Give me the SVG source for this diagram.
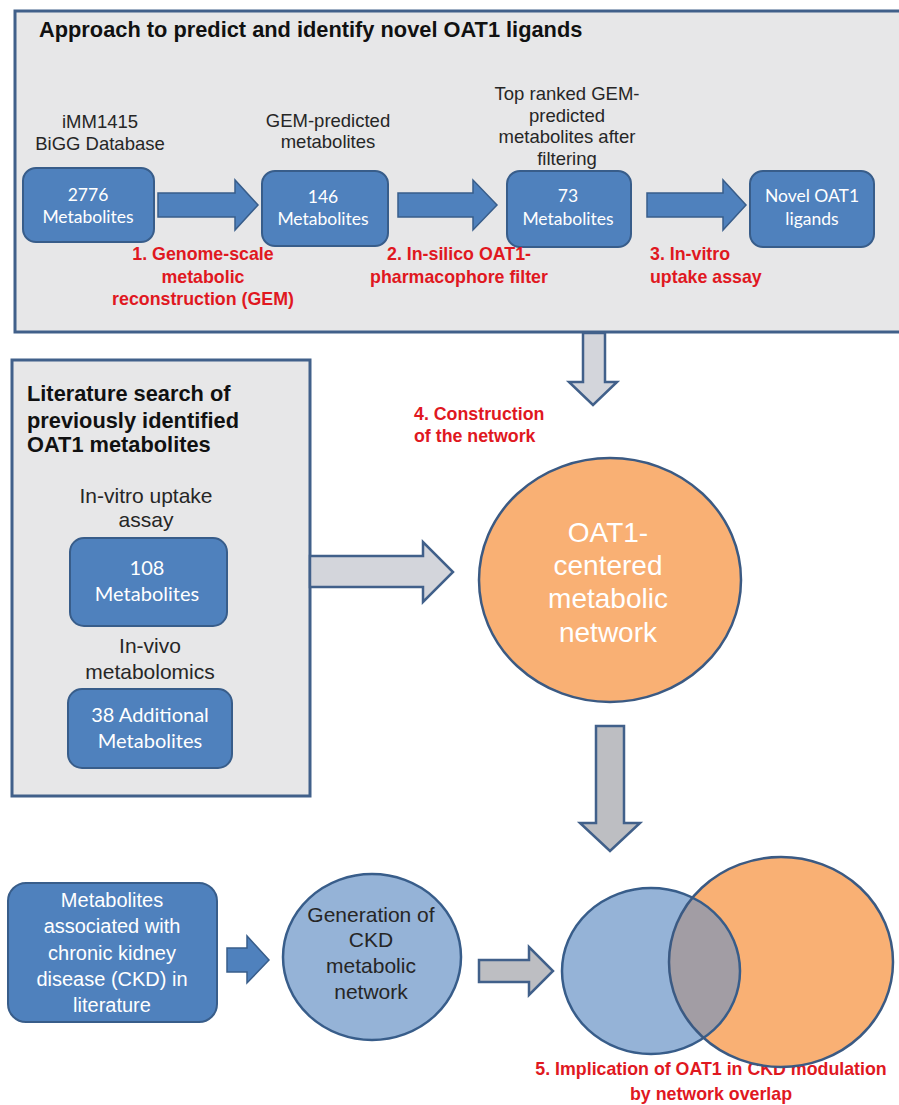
<svg xmlns="http://www.w3.org/2000/svg" width="899" height="1105" viewBox="0 0 899 1105">
  <style>
    .panel { fill: #E7E7E8; stroke: #41608A; stroke-width: 3; }
    .node { fill: #4F81BD; stroke: #385D8A; stroke-width: 2; }
    .blue-arrow { fill: #4F81BD; stroke: #385D8A; stroke-width: 1.5; }
    .gray-arrow { fill: #D3D5DB; stroke: #41608A; stroke-width: 2.5; }
    .gray-arrow-dark { fill: #BDBEC2; stroke: #41608A; stroke-width: 2.5; }
    .ntext { font-family: Lato, "Open Sans", sans-serif; fill: #FFFFFF; text-anchor: middle; }
    .label { font-family: "Liberation Sans", Arial, sans-serif; fill: #262626; text-anchor: middle; }
    .head { font-family: "Liberation Sans", Arial, sans-serif; font-weight: bold; fill: #111111; }
    .step { font-family: "Liberation Sans", Arial, sans-serif; font-weight: bold; fill: #E0181F; font-size: 17.8px; }
    .wtext { font-family: "Liberation Sans", Arial, sans-serif; fill: #FFFFFF; text-anchor: middle; }
  </style>
  <defs>
    <clipPath id="clip-ckd">
      <ellipse cx="651" cy="971" rx="89" ry="83"/>
    </clipPath>
  </defs>

  <rect width="899" height="1105" fill="#FFFFFF"/>

  <!-- Panel: prediction pipeline -->
  <g id="panel-approach">
    <rect class="panel" x="15" y="11" width="895" height="321"/>
    <text class="head" x="39" y="37" font-size="21.8">Approach to predict and identify novel OAT1 ligands</text>
  </g>

  <!-- Panel: literature search -->
  <g id="panel-literature">
    <rect class="panel" x="12" y="360" width="298" height="436"/>
    <text class="head" font-size="21.8">
      <tspan x="27" y="401">Literature search of</tspan>
      <tspan x="27" y="428">previously identified</tspan>
      <tspan x="27" y="452">OAT1 metabolites</tspan>
    </text>
  </g>

  <!-- Connectors -->
  <g id="connectors">
    <polygon class="blue-arrow" points="158,193 235,193 235,180 258,205 235,230 235,217 158,217"/>
    <polygon class="blue-arrow" points="398,193 473,193 473,180 497,205 473,230 473,217 398,217"/>
    <polygon class="blue-arrow" points="647,193 723,193 723,180 746,205 723,230 723,217 647,217"/>
    <polygon class="gray-arrow" points="583,333 605,333 605,382 617,382 593,405 569,382 583,382"/>
    <polygon class="gray-arrow" points="310,556 423,556 423,542 453,572 423,602 423,587 310,587"/>
    <polygon class="gray-arrow-dark" points="596,726 624,726 624,823 640,823 610,851 580,823 596,823"/>
    <polygon class="blue-arrow" points="227,948 247,948 247,936 269,960 247,983 247,972 227,972"/>
    <polygon class="gray-arrow-dark" points="479,960 529,960 529,947 553,971 529,995 529,982 479,982"/>
  </g>

  <!-- Pipeline nodes -->
  <g id="node-bigg">
    <text class="label" font-size="18.5"><tspan x="100" y="128">iMM1415</tspan><tspan x="100" y="150">BiGG Database</tspan></text>
    <rect class="node" x="23" y="168" width="131" height="74" rx="13"/>
    <text class="ntext" font-size="17.5"><tspan x="88" y="201">2776</tspan><tspan x="88" y="223">Metabolites</tspan></text>
  </g>
  <g id="node-gem">
    <text class="label" font-size="18.5"><tspan x="328" y="127">GEM-predicted</tspan><tspan x="328" y="148">metabolites</tspan></text>
    <rect class="node" x="262" y="171" width="126" height="75" rx="13"/>
    <text class="ntext" font-size="17.5"><tspan x="323" y="203">146</tspan><tspan x="323" y="225">Metabolites</tspan></text>
  </g>
  <g id="node-filtered">
    <text class="label" font-size="18.5"><tspan x="567" y="100">Top ranked GEM-</tspan><tspan x="567" y="122">predicted</tspan><tspan x="567" y="143">metabolites after</tspan><tspan x="567" y="165">filtering</tspan></text>
    <rect class="node" x="507" y="171" width="124" height="76" rx="13"/>
    <text class="ntext" font-size="17.5"><tspan x="568" y="202">73</tspan><tspan x="568" y="225">Metabolites</tspan></text>
  </g>
  <g id="node-novel">
    <rect class="node" x="750" y="171" width="124" height="76" rx="13"/>
    <text class="ntext" font-size="17.5"><tspan x="812" y="202">Novel OAT1</tspan><tspan x="812" y="225">ligands</tspan></text>
  </g>

  <!-- Step labels -->
  <g id="step-labels">
    <text class="step" text-anchor="middle"><tspan x="203" y="260">1. Genome-scale</tspan><tspan x="203" y="283">metabolic</tspan><tspan x="203" y="305">reconstruction (GEM)</tspan></text>
    <text class="step" text-anchor="middle"><tspan x="459" y="260">2. In-silico  OAT1-</tspan><tspan x="459" y="283">pharmacophore filter</tspan></text>
    <text class="step"><tspan x="650" y="260">3. In-vitro</tspan><tspan x="650" y="283">uptake assay</tspan></text>
    <text class="step"><tspan x="414" y="420">4. Construction</tspan><tspan x="414" y="442">of the network</tspan></text>
    <text class="step" text-anchor="middle"><tspan x="711" y="1075">5. Implication  of OAT1 in CKD modulation</tspan><tspan x="711" y="1100">by network overlap</tspan></text>
  </g>

  <!-- Literature nodes -->
  <g id="node-invitro">
    <text class="label" font-size="21"><tspan x="146" y="503">In-vitro uptake</tspan><tspan x="146" y="527">assay</tspan></text>
    <rect class="node" x="70" y="538" width="157" height="88" rx="14"/>
    <text class="ntext" font-size="20"><tspan x="147" y="575">108</tspan><tspan x="147" y="601">Metabolites</tspan></text>
  </g>
  <g id="node-invivo">
    <text class="label" font-size="21"><tspan x="150" y="653">In-vivo</tspan><tspan x="150" y="679">metabolomics</tspan></text>
    <rect class="node" x="68" y="689" width="164" height="79" rx="14"/>
    <text class="ntext" font-size="20"><tspan x="150" y="722">38 Additional</tspan><tspan x="150" y="748">Metabolites</tspan></text>
  </g>

  <!-- OAT1 network -->
  <g id="node-oat1-network">
    <ellipse cx="610" cy="580" rx="131" ry="122" fill="#F9B074" stroke="#3B5A83" stroke-width="2.5"/>
    <text class="wtext" font-size="28" fill="#FBF3EA"><tspan x="608" y="542">OAT1-</tspan><tspan x="608" y="575">centered</tspan><tspan x="608" y="608">metabolic</tspan><tspan x="608" y="642">network</tspan></text>
  </g>

  <!-- CKD branch -->
  <g id="node-ckd-literature">
    <rect class="node" x="8" y="883" width="209" height="139" rx="18"/>
    <text class="wtext" font-size="20"><tspan x="112" y="907">Metabolites</tspan><tspan x="112" y="933">associated with</tspan><tspan x="112" y="960">chronic kidney</tspan><tspan x="112" y="986">disease (CKD) in</tspan><tspan x="112" y="1012">literature</tspan></text>
  </g>
  <g id="node-ckd-network">
    <ellipse cx="372" cy="957" rx="89" ry="83" fill="#95B3D7" stroke="#385D8A" stroke-width="2.5"/>
    <text class="label" font-size="21" fill="#111111"><tspan x="371" y="922">Generation of</tspan><tspan x="371" y="947">CKD</tspan><tspan x="371" y="973">metabolic</tspan><tspan x="371" y="999">network</tspan></text>
  </g>

  <!-- Network overlap -->
  <g id="node-overlap">
    <ellipse cx="651" cy="971" rx="89" ry="83" fill="#95B3D7"/>
    <ellipse cx="781" cy="962" rx="112" ry="105" fill="#F9B074"/>
    <ellipse cx="781" cy="962" rx="112" ry="105" fill="#A29DA4" clip-path="url(#clip-ckd)"/>
    <ellipse cx="651" cy="971" rx="89" ry="83" fill="none" stroke="#385D8A" stroke-width="2.5"/>
    <ellipse cx="781" cy="962" rx="112" ry="105" fill="none" stroke="#3B5A83" stroke-width="2.5"/>
  </g>
</svg>
